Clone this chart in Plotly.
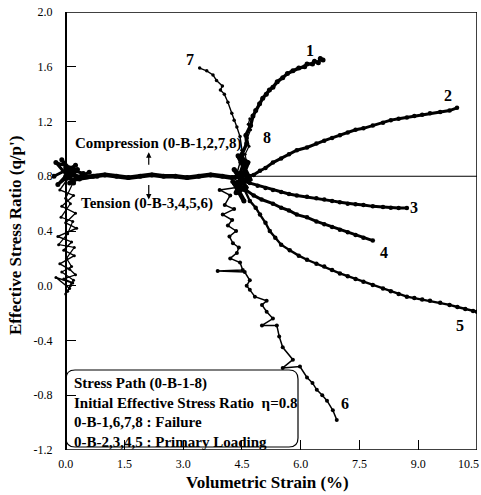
import plotly.graph_objects as go

# ---- stress-path data (volumetric strain %, stress ratio q/p') ----
# shared path 0-B along q/p' = 0.8
path_x = [0.00, 0.15, 0.40, 0.70, 1.00, 1.30, 1.60, 1.90, 2.20, 2.50, 2.80, 3.10, 3.40, 3.70, 4.00, 4.25, 4.45,
          4.30, 4.60, 4.35, 4.65, 4.40, 4.70, 4.30, 4.55]
path_y = [0.80, 0.81, 0.79, 0.80, 0.81, 0.80, 0.79, 0.80, 0.81, 0.80, 0.80, 0.79, 0.80, 0.81, 0.80, 0.79, 0.80,
          0.85, 0.72, 0.68, 0.90, 0.95, 0.78, 0.75, 0.62]

# scatter at the start of loading
blob_x = [-0.30, 0.25, -0.20, 0.30, -0.25, 0.20, -0.10, 0.35, 0.00, 0.45, 0.10, 0.60, 0.20, 0.80]
blob_y = [0.80, 0.88, 0.74, 0.85, 0.90, 0.75, 0.92, 0.78, 0.86, 0.82, 0.75, 0.83, 0.77, 0.80]
col_x = [0.05, -0.15, 0.20, -0.10, 0.25, 0.00, 0.28, -0.20, 0.15, -0.05, 0.22, -0.15, 0.10, 0.25,
         -0.05, 0.18, -0.25, 0.10, 0.00, 0.12]
col_y = [0.78, 0.70, 0.66, 0.58, 0.53, 0.46, 0.42, 0.36, 0.32, 0.26, 0.22, 0.16, 0.12, 0.08,
         0.05, 0.02, 0.06, -0.02, -0.06, 0.00]
col2_x = [0.20, 0.00, 0.12, -0.12, 0.18, 0.05, -0.18, 0.22, 0.02, 0.15, -0.10, 0.20, 0.05, 0.15]
col2_y = [0.76, 0.64, 0.60, 0.50, 0.47, 0.38, 0.30, 0.28, 0.20, 0.14, 0.10, 0.04, -0.04, 0.02]

c1_x = [4.45, 4.55, 4.50, 4.62, 4.60, 4.72, 4.78, 4.85, 4.95, 5.03, 5.12, 5.20, 5.29, 5.40, 5.54,
        5.66, 5.80, 5.95, 6.10, 6.16, 6.30, 6.35, 6.45, 6.50, 6.57]
c1_y = [0.82, 0.90, 0.96, 1.04, 1.10, 1.17, 1.24, 1.28, 1.33, 1.37, 1.40, 1.43, 1.45, 1.49, 1.52,
        1.55, 1.57, 1.59, 1.60, 1.62, 1.62, 1.64, 1.63, 1.66, 1.65]

c2_x = [4.60, 4.80, 4.96, 5.10, 5.29, 5.50, 5.70, 5.90, 6.16, 6.40, 6.60, 6.80, 7.00, 7.20, 7.40,
        7.60, 7.84, 8.10, 8.30, 8.50, 8.71, 8.90, 9.10, 9.30, 9.56, 9.80, 9.99]
c2_y = [0.80, 0.81, 0.84, 0.86, 0.90, 0.93, 0.96, 0.99, 1.01, 1.04, 1.06, 1.08, 1.10, 1.12, 1.14,
        1.15, 1.17, 1.19, 1.21, 1.22, 1.23, 1.24, 1.25, 1.26, 1.27, 1.28, 1.30]

c3_x = [4.45, 4.70, 4.90, 5.10, 5.29, 5.50, 5.70, 5.90, 6.16, 6.40, 6.60, 6.80, 7.00, 7.20, 7.40,
        7.60, 7.84, 8.10, 8.30, 8.50, 8.71]
c3_y = [0.77, 0.75, 0.73, 0.715, 0.70, 0.685, 0.67, 0.66, 0.65, 0.64, 0.63, 0.62, 0.61, 0.60, 0.595,
        0.59, 0.58, 0.575, 0.57, 0.568, 0.568]

c4_x = [4.40, 4.60, 4.80, 5.00, 5.29, 5.50, 5.70, 5.90, 6.16, 6.40, 6.60, 6.80, 7.00, 7.20, 7.40,
        7.60, 7.84]
c4_y = [0.74, 0.70, 0.66, 0.63, 0.60, 0.57, 0.55, 0.52, 0.50, 0.47, 0.45, 0.43, 0.41, 0.39, 0.37,
        0.35, 0.33]

c5_x = [4.40, 4.57, 4.70, 4.85, 4.96, 5.10, 5.21, 5.35, 5.50, 5.72, 5.95, 6.16, 6.40, 6.60, 6.80,
        7.00, 7.20, 7.40, 7.60, 7.84, 8.10, 8.30, 8.50, 8.71, 8.90, 9.10, 9.30, 9.56, 9.80, 10.00,
        10.20, 10.40, 10.50]
c5_y = [0.76, 0.70, 0.62, 0.57, 0.52, 0.46, 0.40, 0.35, 0.30, 0.26, 0.22, 0.19, 0.16, 0.14, 0.115,
        0.09, 0.07, 0.05, 0.03, 0.005, -0.02, -0.04, -0.06, -0.08, -0.09, -0.10, -0.11, -0.125, -0.14,
        -0.155, -0.17, -0.185, -0.19]

c6_x = [4.45, 4.25, 4.40, 3.93, 4.20, 4.06, 4.30, 4.01, 4.25, 4.14, 4.35, 4.18, 4.27, 4.42, 4.37,
        4.20, 4.45, 4.52, 3.88, 4.57, 4.70, 4.62, 4.70, 4.83, 5.13, 5.01, 5.13, 5.29, 5.01, 5.39,
        5.45, 5.54, 5.80, 5.54, 5.98, 6.16, 6.30, 6.41, 6.55, 6.67, 6.82, 6.92]
c6_y = [0.80, 0.76, 0.72, 0.70, 0.66, 0.59, 0.56, 0.52, 0.48, 0.44, 0.40, 0.36, 0.31, 0.28, 0.24,
        0.20, 0.17, 0.115, 0.108, 0.10, 0.04, 0.00, -0.03, -0.08, -0.11, -0.14, -0.19, -0.24, -0.29, -0.29,
        -0.37, -0.45, -0.54, -0.60, -0.59, -0.67, -0.71, -0.76, -0.80, -0.84, -0.91, -0.98]

c7_x = [4.37, 4.45, 4.50, 4.45, 4.37, 4.30, 4.24, 4.14, 4.05, 3.95, 4.00, 3.85, 3.76, 3.60, 3.42]
c7_y = [0.82, 0.90, 0.99, 1.09, 1.16, 1.21, 1.26, 1.34, 1.40, 1.43, 1.46, 1.50, 1.54, 1.57, 1.59]

c8_x = [4.50, 4.62, 4.58, 4.68, 4.64, 4.72, 4.66, 4.70]
c8_y = [0.82, 0.90, 0.96, 1.02, 1.08, 1.14, 1.18, 1.22]

curve_names = ["1", "2", "3", "4", "5", "6", "7", "8"]
label_x = [6.23, 9.76, 8.90, 8.12, 10.07, 7.12, 3.17, 5.13]
label_y = [1.72, 1.39, 0.575, 0.24, -0.29, -0.86, 1.65, 1.08]

x_ticks = [0.0, 1.5, 3.0, 4.5, 6.0, 7.5, 9.0, 10.5]
y_ticks = [-1.2, -0.8, -0.4, 0.0, 0.4, 0.8, 1.2, 1.6, 2.0]

# ---- figure geometry ----
W, H = 481, 495
ML, MR, MT, MB = 52, 4, 12, 45
X0, X1 = -0.35, 10.5
Y0, Y1 = -1.2, 2.0
PW, PH = W - ML - MR, H - MT - MB


def px(xp, yp):
    """pixel position -> paper coordinates"""
    return (xp - ML) / PW, (H - MB - yp) / PH


SERIF = "Liberation Serif"
NARROW = "Liberation Sans Narrow"
INK = "black"
TICKFONT = dict(family=NARROW, size=12, color=INK)

fig = go.Figure()


def add_path(xs, ys, width, msize):
    fig.add_trace(go.Scatter(
        x=xs, y=ys, mode="lines+markers",
        line=dict(color=INK, width=width),
        marker=dict(color=INK, size=msize, symbol="circle"),
        showlegend=False, hoverinfo="skip"))


add_path(path_x, path_y, 4.5, 5)
add_path(blob_x, blob_y, 3, 5)
add_path(col_x, col_y, 1.4, 3)
add_path(col2_x, col2_y, 1.2, 3)
add_path(c1_x, c1_y, 3.4, 5)
add_path(c2_x, c2_y, 3, 4.5)
add_path(c3_x, c3_y, 3, 4.5)
add_path(c4_x, c4_y, 3, 4.5)
add_path(c5_x, c5_y, 2.4, 4.5)
add_path(c6_x, c6_y, 1.5, 4)
add_path(c7_x, c7_y, 1.4, 3.5)
add_path(c8_x, c8_y, 1.2, 3)

shapes = [
    # frame: bottom, top, right
    dict(type="line", xref="x", yref="y", x0=0, x1=X1, y0=Y0, y1=Y0, line=dict(color=INK, width=1.5)),
    dict(type="line", xref="x", yref="y", x0=0, x1=X1, y0=Y1, y1=Y1, line=dict(color=INK, width=1.5)),
    dict(type="line", xref="x", yref="y", x0=X1, x1=X1, y0=Y0, y1=Y1, line=dict(color=INK, width=1.5)),
    # initial stress ratio line
    dict(type="line", xref="x", yref="y", x0=0, x1=X1, y0=0.8, y1=0.8, line=dict(color=INK, width=1)),
]

# rounded legend box
bl, bt, br, bb, r = 66, 370, 298, 447, 9


def P(xp, yp):
    a, b = px(xp, yp)
    return f"{a:.5f},{b:.5f}"


box_path = (f"M {P(bl + r, bt)} L {P(br - r, bt)} Q {P(br, bt)} {P(br, bt + r)} "
            f"L {P(br, bb - r)} Q {P(br, bb)} {P(br - r, bb)} "
            f"L {P(bl + r, bb)} Q {P(bl, bb)} {P(bl, bb - r)} "
            f"L {P(bl, bt + r)} Q {P(bl, bt)} {P(bl + r, bt)} Z")
shapes.append(dict(type="path", xref="paper", yref="paper", path=box_path,
                   line=dict(color=INK, width=1.2), fillcolor="rgba(0,0,0,0)"))

annotations = []
for name, lx, ly in zip(curve_names, label_x, label_y):
    annotations.append(dict(x=lx, y=ly, xref="x", yref="y", text=f"<b>{name}</b>", showarrow=False,
                            font=dict(family=SERIF, size=16, color=INK)))

# direction notes
annotations.append(dict(x=2.35, y=1.04, xref="x", yref="y", text="<b>Compression (0-B-1,2,7,8)</b>",
                        showarrow=False, font=dict(family=SERIF, size=15, color=INK)))
annotations.append(dict(x=2.08, y=0.60, xref="x", yref="y", text="<b>Tension (0-B-3,4,5,6)</b>",
                        showarrow=False, font=dict(family=SERIF, size=15, color=INK)))
annotations.append(dict(x=2.12, y=0.975, xref="x", yref="y", ax=0, ay=14, text="", showarrow=True,
                        arrowhead=2, arrowsize=0.9, arrowwidth=1.2, arrowcolor=INK))
annotations.append(dict(x=2.12, y=0.63, xref="x", yref="y", ax=0, ay=-16, text="", showarrow=True,
                        arrowhead=2, arrowsize=0.9, arrowwidth=1.2, arrowcolor=INK))

# box text
bx, by = px(72, 373)
annotations.append(dict(
    x=bx, y=by, xref="paper", yref="paper", xanchor="left", yanchor="top", align="left",
    text=("<b>Stress Path (0-B-1-8)</b><br>"
          "<b>Initial Effective Stress Ratio  \u03b7=0.8</b><br>"
          "<b>0-B-1,6,7,8 : Failure</b><br>"
          "<b>0-B-2,3,4,5 : Primary Loading</b>"),
    showarrow=False, font=dict(family=SERIF, size=15, color=INK)))

# last x tick label sits at the right edge: right-align it so it stays on the page
x_ticktext = [f"{v:.1f}" for v in x_ticks]
last_label = x_ticktext[-1]
x_ticktext[-1] = ""
annotations.append(dict(x=x_ticks[-1], y=0, xref="x", yref="paper", xanchor="right", yanchor="top",
                        xshift=4, yshift=-5, text=last_label, showarrow=False, font=TICKFONT))

# axis titles
tx, ty = px(267, 482)
annotations.append(dict(x=tx, y=ty, xref="paper", yref="paper", xanchor="center", yanchor="middle",
                        text="<b>Volumetric Strain (%)</b>",
                        showarrow=False, font=dict(family=SERIF, size=17, color=INK)))
tx, ty = px(15, 236)
annotations.append(dict(x=tx, y=ty, xref="paper", yref="paper", xanchor="center", yanchor="middle",
                        text="<b>Effective Stress Ratio (q/p')</b>",
                        textangle=-90, showarrow=False, font=dict(family=SERIF, size=17, color=INK)))

fig.update_layout(
    width=W, height=H,
    margin=dict(l=ML, r=MR, t=MT, b=MB, autoexpand=False),
    paper_bgcolor="white", plot_bgcolor="white",
    showlegend=False,
    shapes=shapes, annotations=annotations,
    xaxis=dict(range=[X0, X1], tickvals=x_ticks, ticktext=x_ticktext,
               ticks="inside", ticklen=10, tickwidth=1, tickcolor=INK,
               showline=False, showgrid=False, zeroline=False, ticklabelstandoff=5,
               automargin=False, tickfont=TICKFONT),
    yaxis=dict(range=[Y0, Y1], tickvals=y_ticks, ticktext=[f"{v:.1f}" for v in y_ticks],
               anchor="free", position=(0 - X0) / (X1 - X0),
               ticks="inside", ticklen=10, tickwidth=1, tickcolor=INK,
               showline=True, linecolor=INK, linewidth=1.5, automargin=False,
               showgrid=False, zeroline=False, ticklabelstandoff=10,
               tickfont=TICKFONT),
)

fig.write_html("out.html")
